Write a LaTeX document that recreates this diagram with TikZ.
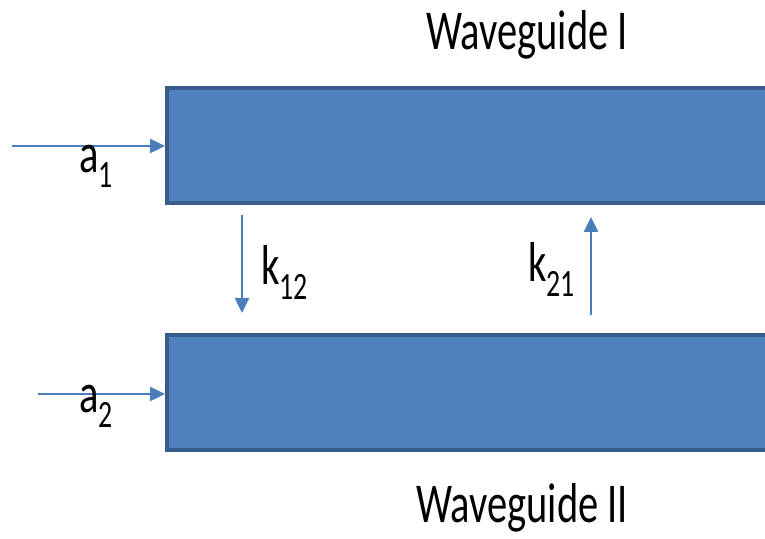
\documentclass[tikz,border=0pt]{standalone}
\usepackage{fontspec}
\setmainfont{Carlito}
\usetikzlibrary{arrows.meta,calc,positioning}
\definecolor{GuideFill}{HTML}{4F81BD}
\definecolor{GuideEdge}{HTML}{385D8A}
\definecolor{FlowLine}{HTML}{4A7EBB}
\newcommand\lowidx[1]{\raisebox{-0.26em}{\fontsize{22}{22}\selectfont #1}}
\tikzset{
  every node/.style={text=black},
  guidebox/.style={draw=GuideEdge, line width=2pt, fill=GuideFill, anchor=north west,
    minimum width=13cm, minimum height=2.31cm, inner sep=0pt},
  biglabel/.style={font=\fontsize{32}{34}\selectfont, xscale=0.72, inner sep=0pt},
  flow/.style={-{Triangle[length=3.0mm,width=2.8mm]}, draw=FlowLine, line width=1.4pt},
}
\begin{document}
\begin{tikzpicture}[x=1cm,y=1cm]
  % 1 px = 0.02 cm, origin at top left
  \useasboundingbox (0,0) rectangle (15.3,-10.78);
  \clip (0,0) rectangle (15.3,-10.78);
  \node[guidebox] (wgone) at (3.30,-1.72) {};
  \node[guidebox] (wgtwo) at (3.30,-6.66) {};
  \node[biglabel, anchor=base] (nameone) at (10.54,-1.0) {Waveguide I};
  \node[biglabel, anchor=base] (nametwo) at (10.44,-10.46) {Waveguide II};
  % inputs
  \coordinate (inone) at (0.24,-2.92);
  \coordinate (intwo) at (0.76,-7.88);
  \draw[flow] (inone) -- (inone -| wgone.west);
  \draw[flow] (intwo) -- (intwo -| wgtwo.west);
  \node[biglabel, anchor=base west] (aone) at (1.58,-3.46) {a\lowidx{1}};
  \node[biglabel, anchor=base west] (atwo) at (1.58,-8.26) {a\lowidx{2}};
  % coupling
  \coordinate (ktopa) at (4.84,-4.30);
  \coordinate (kbota) at (4.84,-6.26);
  \coordinate (kbotb) at (11.82,-6.30);
  \coordinate (ktopb) at (11.82,-4.34);
  \draw[flow] (ktopa) -- (kbota);
  \draw[flow] (kbotb) -- (ktopb);
  \node[biglabel, anchor=base west] (konetwo) at (5.22,-5.70) {k\lowidx{12}};
  \node[biglabel, anchor=base west] (ktwoone) at (10.56,-5.64) {k\lowidx{21}};
\end{tikzpicture}
\end{document}
